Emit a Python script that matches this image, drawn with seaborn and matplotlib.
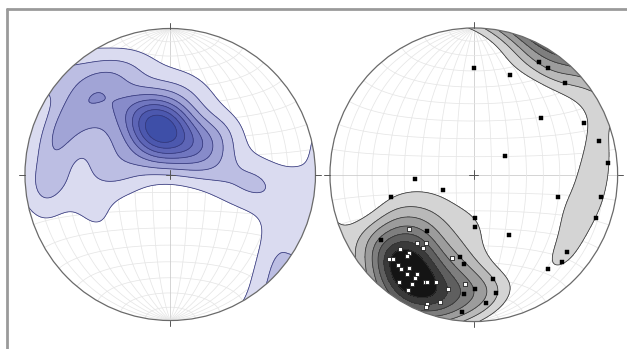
import numpy as np
import matplotlib
matplotlib.use("Agg")
import matplotlib.pyplot as plt
from matplotlib.patches import Circle
from matplotlib.lines import Line2D
import seaborn as sns

sns.set_theme(style="white")

# Poles on the equal-area (Schmidt) net, lower hemisphere:
# x = east, y = north, primitive circle radius = 1
left_pole_x = [-0.070, -0.017, -0.123, -0.066, -0.074, 0.015, -0.155, 0.058, -0.198, 0.031,
               -0.171, 0.111, -0.251, 0.023, -0.163, 0.127, -0.267, -0.017, -0.123, 0.212,
               -0.357, -0.068, -0.074,
               -0.45, -0.52, -0.60, -0.40, -0.68, -0.55, -0.75, -0.85, -0.78, -0.70,
               -0.50, -0.45,
               0.30, 0.15, -0.10, -0.30, 0.40, 0.72, 0.90, 0.55, 0.58,
               0.30, 0.25,
               0.75, 0.72, 0.78, 0.70, 0.40,
               -0.85, -0.80, -0.62, -0.45, -0.92, -0.30,
               -0.35, -0.20, -0.55, 0.05, 0.20,
               -0.50]
left_pole_y = [0.320, 0.311, 0.329, 0.270, 0.370, 0.267, 0.373, 0.299, 0.341, 0.198,
               0.442, 0.231, 0.409, 0.356, 0.284, 0.162, 0.478, 0.405, 0.235, 0.203,
               0.428, 0.176, 0.464,
               0.52, 0.60, 0.52, 0.60, 0.45, 0.42, 0.35, 0.22, 0.18, 0.25,
               0.25, 0.15,
               0.05, 0.08, 0.10, 0.12, 0.30, -0.08, -0.05, -0.02, -0.10,
               0.25, 0.20,
               -0.30, -0.50, -0.60, -0.70, -0.05,
               -0.08, -0.05, -0.08, -0.02, -0.15, 0.00,
               0.75, 0.70, 0.72, 0.62, 0.52,
               -0.30]

# Right net: open squares (main cluster) and solid squares
right_open_x = [-0.449, -0.395, -0.331, -0.351, -0.511, -0.451, -0.467, -0.153, -0.588, -0.560,
                -0.527, -0.508, -0.449, -0.392, -0.462, -0.412, -0.339, -0.324, -0.263, -0.518,
                -0.432, -0.061, -0.182, -0.458, -0.235, -0.323, -0.332]
right_open_y = [-0.371, -0.465, -0.463, -0.500, -0.506, -0.533, -0.551, -0.569, -0.577, -0.577,
                -0.615, -0.645, -0.637, -0.673, -0.677, -0.705, -0.729, -0.731, -0.729, -0.733,
                -0.742, -0.744, -0.780, -0.783, -0.865, -0.880, -0.901]
right_solid_x = [0.003, 0.255, 0.450, 0.519, 0.636, 0.467, 0.763, 0.869, 0.935, 0.217,
                 -0.409, -0.216, -0.578, 0.588, 0.887, 0.848, 0.006, 0.006, 0.247, 0.646,
                 0.611, 0.519, 0.131, 0.006, 0.151, 0.083, -0.079, -0.068, -0.070, -0.096,
                 -0.325, -0.647]
right_solid_y = [0.725, 0.681, 0.767, 0.727, 0.625, 0.385, 0.350, 0.232, 0.083, 0.128,
                 -0.031, -0.107, -0.152, -0.152, -0.152, -0.297, -0.297, -0.358, -0.412, -0.526,
                 -0.592, -0.645, -0.707, -0.781, -0.808, -0.876, -0.938, -0.814, -0.610, -0.558,
                 -0.382, -0.444]
# further measurements that enter the right-hand contouring but are not plotted
right_extra_x = [0.78, 0.76, 0.68, 0.66, -0.55, -0.35, -0.75, -0.15,
                 -0.45, -0.62, -0.80, -0.90, -0.20, 0.35, 0.55]
right_extra_y = [0.05, 0.00, -0.28, -0.36, -0.30, -0.25, -0.38, -0.25,
                 -0.88, -0.76, -0.55, -0.40, -0.97, 0.85, 0.75]

left_fill = ['#dadbf0', '#bcbee3', '#a1a4d6', '#878bca', '#7076bf', '#5d65b6', '#4c58ae', '#3e4fa8']
left_line = '#35387a'
right_fill = ['#d4d4d4', '#b9b9b9', '#9c9c9c', '#7e7e7e', '#5f5f5f', '#3a3a3a', '#141414']
right_line = '#333333'


def net_to_vec(x, y):
    r = np.clip(np.hypot(x, y), 0, 1)
    theta = 2 * np.arcsin(r / np.sqrt(2))
    az = np.arctan2(x, y)
    return np.stack([np.sin(theta) * np.sin(az),
                     np.sin(theta) * np.cos(az),
                     np.cos(theta)], axis=-1)


def vec_to_net(e, n, d):
    theta = np.arccos(np.clip(d, -1, 1))
    r = np.sqrt(2) * np.sin(theta / 2)
    az = np.arctan2(e, n)
    return r * np.sin(az), r * np.cos(az)


def density(px, py, k, n=281):
    poles = net_to_vec(np.asarray(px), np.asarray(py))
    g = np.linspace(-1.03, 1.03, n)
    X, Y = np.meshgrid(g, g)
    G = net_to_vec(X, Y)
    c = np.abs(G @ poles.T)
    return X, Y, np.exp(k * (c - 1)).sum(axis=-1)


def draw_net(ax):
    t = np.radians(np.linspace(-90, 90, 361))
    for deg in range(-80, 90, 10):
        a = np.radians(deg)
        col = '#c9c9c9' if deg == 0 else '#e6e6e6'
        # great circles through N-S
        x, y = vec_to_net(np.cos(t) * np.sin(a), np.sin(t), np.cos(t) * np.cos(a))
        ax.plot(x, y, color=col, lw=0.55, zorder=1)
        # small circles about N-S
        x, y = vec_to_net(np.cos(a) * np.sin(t), np.sin(a) * np.ones_like(t), np.cos(a) * np.cos(t))
        ax.plot(x, y, color=col, lw=0.55, zorder=1)


def finish(ax):
    ax.add_patch(Circle((0, 0), 1, fill=False, ec='#6a6a6a', lw=0.9, zorder=6))
    for (x0, y0, x1, y1) in [(0, 1, 0, 1.04), (0, -1, 0, -1.04), (1, 0, 1.04, 0), (-1, 0, -1.04, 0),
                             (-0.03, 0, 0.03, 0), (0, -0.03, 0, 0.03)]:
        ax.plot([x0, x1], [y0, y1], color='#555555', lw=0.7, zorder=7)
    ax.set_xlim(-1.1, 1.1)
    ax.set_ylim(-1.1, 1.1)
    ax.set_aspect('auto')
    ax.set_facecolor('none')
    ax.axis('off')


def contour(ax, px, py, k, fracs, fills, line):
    X, Y, D = density(px, py, k)
    dmax = D.max()
    levels = list(np.array(fracs) * dmax) + [dmax * 1.01]
    clip = Circle((0, 0), 1, transform=ax.transData)
    cf = ax.contourf(X, Y, D, levels=levels, colors=fills, zorder=2)
    cl = ax.contour(X, Y, D, levels=levels[:-1], colors=line, linewidths=0.55, zorder=3)
    cf.set_clip_path(clip)
    cl.set_clip_path(clip)


fig = plt.figure(figsize=(6.27, 3.49), dpi=100)
W, H = 627.0, 349.0

axL = fig.add_axes([10.45 / W, 13.9 / H, 319.55 / W, 321.2 / H])
axR = fig.add_axes([315.6 / W, 12.75 / H, 316.4 / W, 322.96 / H])

for ax in (axL, axR):
    draw_net(ax)

contour(axL, left_pole_x, left_pole_y, 32,
        [0.09, 0.19, 0.29, 0.40, 0.51, 0.62, 0.74, 0.86], left_fill, left_line)
contour(axR, right_open_x + right_solid_x + right_extra_x,
        right_open_y + right_solid_y + right_extra_y, 25,
        [0.20, 0.29, 0.38, 0.48, 0.58, 0.69, 0.80], right_fill, right_line)

sns.scatterplot(x=right_solid_x, y=right_solid_y, marker='s', s=6, color='black',
                edgecolor='black', linewidth=0.3, ax=axR, zorder=8)
sns.scatterplot(x=right_open_x, y=right_open_y, marker='s', s=11, color='white',
                edgecolor='#222222', linewidth=0.6, ax=axR, zorder=8)

for ax in (axL, axR):
    finish(ax)

# page frame
fig.add_artist(Line2D([6.5 / W, 1.0], [1 - 8.5 / H, 1 - 8.5 / H], color='#9a9a9a', lw=2.0))
fig.add_artist(Line2D([6.5 / W, 6.5 / W], [0, 1 - 8.5 / H], color='#9a9a9a', lw=2.0))

fig.savefig("out.png", dpi=100)
